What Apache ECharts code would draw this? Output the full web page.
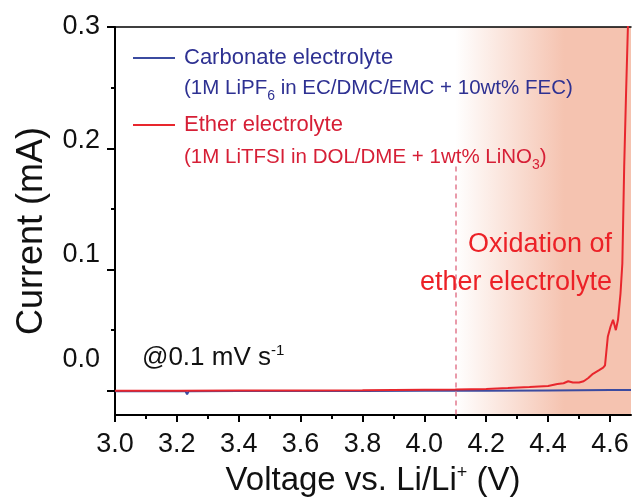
<!DOCTYPE html>
<html>
<head>
<meta charset="utf-8">
<script src="https://cdn.jsdelivr.net/npm/echarts@6/dist/echarts.min.js"></script>
<style>
  html, body { margin: 0; padding: 0; background: #ffffff; }
  #chart { width: 632px; height: 502px; }
</style>
</head>
<body>
<div id="chart"></div>
<script>
// Axis ranges and ticks
const voltageRange = [3.0, 4.668];
const currentRange = [-0.02, 0.3];
const voltageMajorTicks = [3.0, 3.2, 3.4, 3.6, 3.8, 4.0, 4.2, 4.4, 4.6];
const voltageMinorTicks = [3.1, 3.3, 3.5, 3.7, 3.9, 4.1, 4.3, 4.5];
const currentMajorTicks = [0, 0.1, 0.2, 0.3];
const currentMinorTicks = [0.05, 0.15, 0.25];

// Linear sweep, carbonate electrolyte
const carbonateVoltage = [3.00, 3.10, 3.20, 3.228, 3.233, 3.238, 3.40, 3.60, 3.80, 4.00, 4.20, 4.40, 4.60, 4.668];
const carbonateCurrent = [-0.0004, -0.0004, -0.0004, -0.0004, -0.0030, -0.0004, -0.0003, -0.0003, -0.0002, -0.0001, 0.0000, 0.0003, 0.0006, 0.0007];

// Linear sweep, ether electrolyte
const etherVoltage = [3.00, 3.20, 3.40, 3.60, 3.80, 4.00, 4.10, 4.20, 4.27, 4.34, 4.40, 4.43, 4.45, 4.465, 4.48, 4.50, 4.515, 4.53, 4.545, 4.565, 4.578, 4.584, 4.593, 4.602, 4.610, 4.619, 4.626, 4.634, 4.640, 4.646, 4.652, 4.658, 4.663];
const etherCurrent = [0.0000, 0.0001, 0.0002, 0.0003, 0.0005, 0.0008, 0.0010, 0.0015, 0.0022, 0.0030, 0.0040, 0.0055, 0.0062, 0.0078, 0.0068, 0.0068, 0.0078, 0.0105, 0.0140, 0.0170, 0.0190, 0.0210, 0.0445, 0.0530, 0.0585, 0.0500, 0.0585, 0.0800, 0.1050, 0.1850, 0.2450, 0.3000, 0.3450];

// Onset of the shaded oxidation window
const oxidationOnset = 4.1;
const markerTop = 0.185;

const seriesNames = ['Carbonate electrolyte', 'Ether electrolyte'];
const compositionLabels = [
  '{s|(1M LiPF}{sub|6}{s| in EC/DMC/EMC + 10wt% FEC)}',
  '{s|(1M LiTFSI in DOL/DME + 1wt% LiNO}{sub|3}{s|)}'
];

const FONT = '"Liberation Sans", Arial, Helvetica, sans-serif';
const BLUE_LINE = '#3b4ba0';
const BLUE_TEXT = '#2e3192';
const RED_LINE = '#e8262d';
const RED_TEXT = '#d61f36';
const SHADE = '#f5c3b0';

const zip = (xs, ys) => xs.map((x, i) => [x, ys[i]]);

// Tick labels sit progressively higher than their ticks
const labelLift = { '0.3': 0, '0.2': 8, '0.1': 15, '0.0': 31 };
const yLabelRich = {};
Object.keys(labelLift).forEach((k, i) => {
  yLabelRich['l' + i] = { fontSize: 27, fontFamily: FONT, color: '#111', padding: [0, 0, labelLift[k] * 2, 0] };
});
const yLabelKeys = Object.keys(labelLift);

const chart = echarts.init(document.getElementById('chart'), null, { renderer: 'canvas' });

const subRich = (color) => ({
  s: { fontSize: 20.5, fontFamily: FONT, fill: color, lineHeight: 30, verticalAlign: 'middle' },
  sub: { fontSize: 14, fontFamily: FONT, fill: color, lineHeight: 14, verticalAlign: 'bottom' }
});

const option = {
  animation: false,
  backgroundColor: '#ffffff',
  grid: { left: 115, right: 1, top: 27, bottom: 87, containLabel: false },
  legend: {
    orient: 'vertical',
    left: 133,
    top: 47,
    padding: 0,
    itemWidth: 42,
    itemHeight: 14,
    itemGap: 45,
    icon: 'path://M0,0 L42,0 L42,2 L0,2 Z',
    data: [
      { name: seriesNames[0], textStyle: { color: BLUE_TEXT } },
      { name: seriesNames[1], textStyle: { color: RED_TEXT } }
    ],
    textStyle: { fontSize: 22, fontFamily: FONT, lineHeight: 22, padding: [0, 0, 0, 4] },
    selectedMode: false,
    z: 20
  },
  xAxis: [
    {
      type: 'value', position: 'bottom', min: voltageRange[0], max: voltageRange[1],
      axisLine: { show: true, onZero: false, lineStyle: { color: '#000', width: 2 } },
      axisTick: { show: true, inside: false, length: 7, customValues: voltageMajorTicks, lineStyle: { color: '#000', width: 2 } },
      axisLabel: { show: true, customValues: voltageMajorTicks, margin: 16, fontSize: 27, fontFamily: FONT, color: '#111',
                   formatter: v => v.toFixed(1) },
      splitLine: { show: false },
      name: 'Voltage vs. Li/Li{sup|+} (V)',
      nameLocation: 'middle',
      nameGap: 49,
      nameTextStyle: {
        fontSize: 33, fontFamily: FONT, color: '#111',
        rich: { sup: { fontSize: 18, fontFamily: FONT, color: '#111', verticalAlign: 'top', lineHeight: 18 } }
      }
    },
    {
      type: 'value', position: 'bottom', min: voltageRange[0], max: voltageRange[1],
      axisLine: { show: false, onZero: false },
      axisTick: { show: true, length: 4, customValues: voltageMinorTicks, lineStyle: { color: '#000', width: 2 } },
      axisLabel: { show: false },
      splitLine: { show: false }
    },
    {
      type: 'value', position: 'top', min: voltageRange[0], max: voltageRange[1],
      axisLine: { show: true, onZero: false, lineStyle: { color: '#000', width: 1.5 } },
      axisTick: { show: false },
      axisLabel: { show: false },
      splitLine: { show: false }
    }
  ],
  yAxis: [
    {
      type: 'value', position: 'left', min: currentRange[0], max: currentRange[1],
      axisLine: { show: true, onZero: false, lineStyle: { color: '#000', width: 2 } },
      axisTick: { show: true, length: 8, customValues: currentMajorTicks, lineStyle: { color: '#000', width: 2 } },
      axisLabel: {
        show: true, customValues: currentMajorTicks, margin: 15,
        formatter: v => {
          const t = v.toFixed(1);
          return '{l' + yLabelKeys.indexOf(t) + '|' + t + '}';
        },
        rich: yLabelRich
      },
      splitLine: { show: false },
      name: 'Current (mA)',
      nameLocation: 'middle',
      nameGap: 65,
      nameTextStyle: { fontSize: 36, fontFamily: FONT, color: '#111', padding: [0, 20, 0, 0] }
    },
    {
      type: 'value', position: 'left', min: currentRange[0], max: currentRange[1],
      axisLine: { show: false, onZero: false },
      axisTick: { show: true, length: 4, customValues: currentMinorTicks, lineStyle: { color: '#000', width: 2 } },
      axisLabel: { show: false },
      splitLine: { show: false }
    }
  ],
  series: [
    {
      name: seriesNames[0],
      type: 'line',
      xAxisIndex: 0, yAxisIndex: 0,
      data: zip(carbonateVoltage, carbonateCurrent),
      showSymbol: false, symbol: 'none',
      lineStyle: { color: BLUE_LINE, width: 2 },
      itemStyle: { color: BLUE_LINE },
      z: 2,
      markArea: {
        silent: true,
        z: 0,
        itemStyle: {
          color: {
            type: 'linear', x: 0, y: 0, x2: 1, y2: 0,
            colorStops: [
              { offset: 0, color: 'rgba(245,195,176,0)' },
              { offset: 0.62, color: SHADE },
              { offset: 1, color: SHADE }
            ]
          }
        },
        data: [[{ xAxis: oxidationOnset }, { xAxis: voltageRange[1] }]]
      }
    },
    {
      name: seriesNames[1],
      type: 'line',
      xAxisIndex: 0, yAxisIndex: 0,
      data: zip(etherVoltage, etherCurrent),
      showSymbol: false, symbol: 'none',
      clip: true,
      lineStyle: { color: RED_LINE, width: 2 },
      itemStyle: { color: RED_LINE },
      z: 3,
      markLine: {
        silent: true,
        symbol: ['none', 'none'],
        label: { show: false },
        lineStyle: { color: '#e27a8e', type: [5, 4], width: 1.5 },
        data: [[{ coord: [oxidationOnset, markerTop] }, { coord: [oxidationOnset, currentRange[0]] }]]
      }
    }
  ],
  graphic: [
    {
      type: 'text', left: 184, top: 78, z: 50,
      style: { text: compositionLabels[0], rich: subRich(BLUE_TEXT) }
    },
    {
      type: 'text', left: 184, top: 147, z: 50,
      style: { text: compositionLabels[1], rich: subRich(RED_TEXT) }
    },
    {
      type: 'text', left: 142, top: 343, z: 50,
      style: {
        text: '{m|@0.1 mV s}{sup|-1}',
        rich: {
          m: { fontSize: 26, fontFamily: FONT, fill: '#111', lineHeight: 30, verticalAlign: 'middle' },
          sup: { fontSize: 15, fontFamily: FONT, fill: '#111', lineHeight: 15, verticalAlign: 'top' }
        }
      }
    },
    {
      type: 'text', x: 612, y: 226, z: 50,
      style: {
        text: 'Oxidation of\nether electrolyte',
        fontSize: 27, fontFamily: FONT, fill: '#ec2127', lineHeight: 38,
        textAlign: 'right', align: 'right', textVerticalAlign: 'top', verticalAlign: 'top'
      }
    }
  ]
};

chart.setOption(option);
</script>
</body>
</html>
